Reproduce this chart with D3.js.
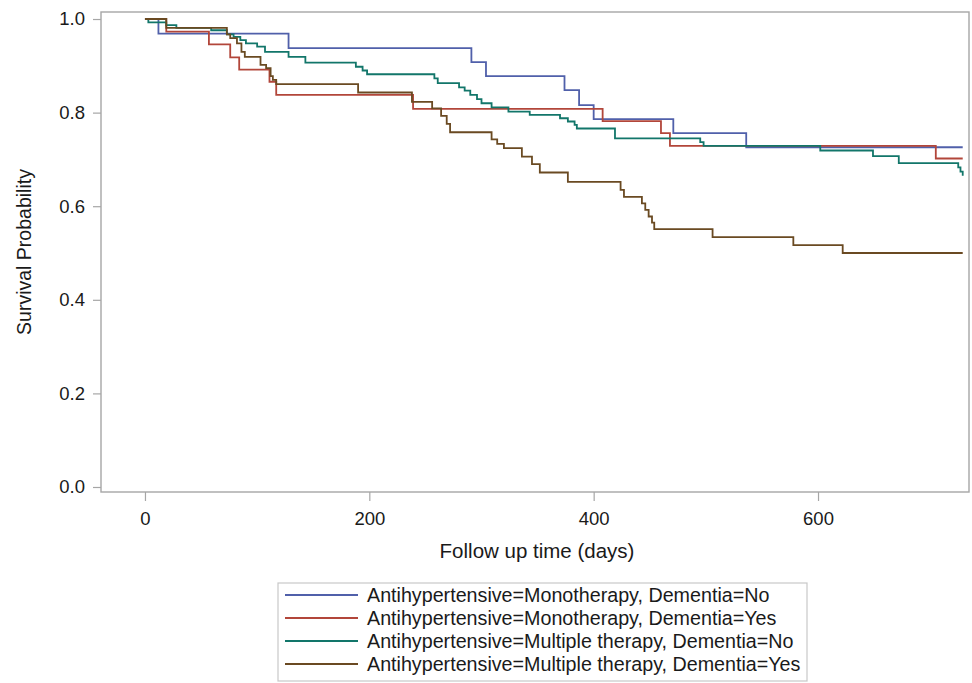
<!DOCTYPE html>
<html>
<head>
<meta charset="utf-8">
<script src="https://cdn.jsdelivr.net/npm/d3@7.9.0/dist/d3.min.js"></script>
<style>
  body { margin: 0; background: #fff; }
  svg { display: block; font-family: "Liberation Sans", Arial, sans-serif; }
</style>
</head>
<body>
<svg id="chart" width="972" height="683"></svg>
<script>
// Kaplan-Meier step points (days, survival)
const monoNoDays = [0, 12, 128, 291, 304, 374, 387, 400, 471, 536, 729];
const monoNoSurv = [1, 0.969, 0.938, 0.908, 0.878, 0.848, 0.816, 0.786, 0.756, 0.726, 0.726];

const monoYesDays = [0, 19, 57, 76, 84, 111, 117, 239, 408, 460, 468, 705, 729];
const monoYesSurv = [1, 0.973, 0.946, 0.918, 0.892, 0.866, 0.838, 0.808, 0.782, 0.756, 0.729, 0.702, 0.702];

const multiNoDays = [0, 3, 19, 28, 59, 73, 79, 85, 90, 100, 107, 128, 143, 188, 194, 198, 258, 261, 280, 285,
  290, 296, 300, 309, 324, 343, 370, 377, 383, 385, 419, 495, 498, 602, 649, 672, 725, 727, 729];
const multiNoSurv = [1, 0.993, 0.987, 0.981, 0.976, 0.967, 0.962, 0.955, 0.948, 0.941, 0.930, 0.919, 0.907, 0.898, 0.890, 0.882, 0.873, 0.863, 0.854, 0.847,
  0.838, 0.829, 0.820, 0.811, 0.802, 0.795, 0.788, 0.781, 0.774, 0.766, 0.745, 0.737, 0.729, 0.719, 0.707, 0.692, 0.683, 0.674, 0.665];

const multiYesDays = [0, 19, 73, 76, 82, 86, 89, 103, 108, 112, 114, 117, 190, 238, 256, 264, 269, 272, 309, 314,
  320, 336, 345, 352, 377, 424, 427, 443, 446, 449, 452, 454, 506, 578, 622, 729];
const multiYesSurv = [1, 0.981, 0.967, 0.959, 0.948, 0.930, 0.919, 0.902, 0.895, 0.878, 0.870, 0.861, 0.843, 0.823, 0.809, 0.793, 0.776, 0.758, 0.743, 0.733,
  0.724, 0.706, 0.690, 0.672, 0.652, 0.635, 0.620, 0.606, 0.592, 0.578, 0.565, 0.551, 0.534, 0.517, 0.500, 0.500];

const seriesLabels = [
  'Antihypertensive=Monotherapy, Dementia=No',
  'Antihypertensive=Monotherapy, Dementia=Yes',
  'Antihypertensive=Multiple therapy, Dementia=No',
  'Antihypertensive=Multiple therapy, Dementia=Yes'
];
const seriesColors = ['#5060aa', '#b2463a', '#12766a', '#6a4a22'];

const xTicks = [0, 200, 400, 600];
const yTicks = [0, 0.2, 0.4, 0.6, 0.8, 1.0];

let series = [
  [monoNoDays, monoNoSurv],
  [monoYesDays, monoYesSurv],
  [multiNoDays, multiNoSurv],
  [multiYesDays, multiYesSurv]
].map(([days, surv]) => days.map((d, i) => ({ t: d, s: surv[i] })));

const frame = { left: 101, top: 12, right: 969, bottom: 492 };

let x = d3.scaleLinear().domain([-39.2, 734.6]).range([frame.left, frame.right]);
let y = d3.scaleLinear().domain([-0.0107, 1.015]).range([frame.bottom, frame.top]);

let svg = d3.select('#chart');
const axisGray = '#a6a6a6';
const textColor = '#1a1a1a';

// x axis
let xAxis = svg.append('g')
  .attr('transform', `translate(0,${frame.bottom})`)
  .call(d3.axisBottom(x).tickValues(xTicks).tickSize(9).tickPadding(11).tickFormat(d3.format('d')));
// y axis
let yAxis = svg.append('g')
  .attr('transform', `translate(${frame.left},0)`)
  .call(d3.axisLeft(y).tickValues(yTicks).tickSize(8).tickPadding(8).tickFormat(d3.format('.1f')));

[xAxis, yAxis].forEach((g) => {
  g.select('.domain').remove();
  g.selectAll('line').attr('stroke', axisGray).attr('stroke-width', 1.2);
  g.selectAll('text')
    .attr('fill', textColor)
    .attr('font-size', 18.5)
    .attr('font-family', '"Liberation Sans", Arial, sans-serif');
});

svg.append('rect')
  .attr('x', frame.left)
  .attr('y', frame.top)
  .attr('width', frame.right - frame.left)
  .attr('height', frame.bottom - frame.top)
  .attr('fill', 'none')
  .attr('stroke', axisGray)
  .attr('stroke-width', 1.4);

// axis titles
svg.append('text')
  .attr('x', 537)
  .attr('y', 558)
  .attr('text-anchor', 'middle')
  .attr('font-size', 20.5)
  .attr('fill', textColor)
  .text('Follow up time (days)');

svg.append('text')
  .attr('transform', 'translate(31,252) rotate(-90)')
  .attr('text-anchor', 'middle')
  .attr('font-size', 19.5)
  .attr('fill', textColor)
  .text('Survival Probability');

// survival curves
let line = d3.line()
  .x((d) => x(d.t))
  .y((d) => y(d.s))
  .curve(d3.curveStepAfter);

series.forEach((pts, idx) => {
  svg.append('path')
    .attr('d', line(pts))
    .attr('fill', 'none')
    .attr('stroke', seriesColors[idx])
    .attr('stroke-width', 1.8);
});

// legend
let legend = svg.append('g');
legend.append('rect')
  .attr('x', 278)
  .attr('y', 583)
  .attr('width', 529)
  .attr('height', 98)
  .attr('fill', '#fff')
  .attr('stroke', '#c8c8c8')
  .attr('stroke-width', 1.2);

seriesLabels.forEach((label, idx) => {
  let rowY = 595 + idx * 23;
  legend.append('line')
    .attr('x1', 285)
    .attr('x2', 358)
    .attr('y1', rowY)
    .attr('y2', rowY)
    .attr('stroke', seriesColors[idx])
    .attr('stroke-width', 1.8);
  legend.append('text')
    .attr('x', 367)
    .attr('y', rowY + 7)
    .attr('font-size', 19.7)
    .attr('fill', textColor)
    .text(label);
});
</script>
</body>
</html>
